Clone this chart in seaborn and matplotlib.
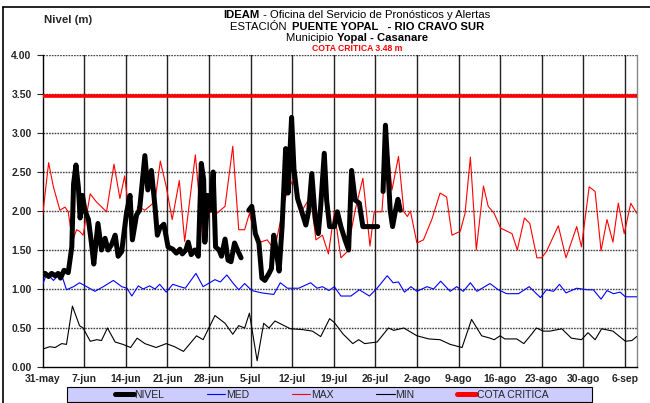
"""
Nivel del río Cravo Sur - estación Puente Yopal (IDEAM)
Recreación del gráfico de niveles con seaborn.
"""

import numpy as np
import pandas as pd
import matplotlib
matplotlib.use('Agg')
import matplotlib.pyplot as plt
from matplotlib.lines import Line2D
from matplotlib.patches import Rectangle
import seaborn as sns

sns.set_theme(style='white')
plt.rcParams['font.family'] = ['Liberation Sans', 'DejaVu Sans']

# ── datos (día desde el 31-may, nivel en m) ────────────────────────────────
max_dia = [0, 1, 1.8, 2.9, 3.75, 4.3, 5, 5.7, 6.2, 6.8, 8, 9, 10.75, 12, 13, 13.8,
           15.1, 16, 17.2, 18.9, 19.8, 20.8, 21.8, 23, 23.9, 25.7, 27, 28.1, 29,
           30.7, 32, 33, 34, 34.8, 35.8, 36.6, 37.8, 39, 40.9, 42.1, 43.7, 45.1,
           46, 47.1, 48.1, 49.1, 50.2, 51.3, 52.6, 53.9, 55.1, 55.8, 57.1, 58,
           58.8, 59.9, 60.8, 61.4, 61.9, 63, 64.1, 65.5, 66.9, 68, 68.9, 70.3,
           71.1, 72, 73, 74.2, 75, 76, 77.1, 79, 79.9, 81.1, 82, 83.2, 84, 84.8,
           86.8, 88.1, 89.9, 90.7, 92, 93, 94, 95, 96, 96.9, 97.9, 99, 100]
max_val = [1.95, 2.62, 2.31, 2.01, 2.05, 1.99, 1.61, 1.76, 1.74, 1.69, 2.22, 2.12,
           1.99, 2.60, 2.16, 2.45, 1.61, 2.06, 2.01, 2.12, 2.64, 2.31, 1.89, 2.39,
           1.61, 2.72, 1.59, 2.01, 1.95, 2.06, 2.83, 1.76, 1.76, 1.97, 1.67, 1.60,
           1.63, 1.50, 2.18, 2.40, 2.01, 2.19, 1.63, 1.69, 1.45, 1.99, 1.40, 1.48,
           2.01, 2.42, 1.55, 1.99, 1.99, 2.89, 2.27, 2.70, 1.99, 1.93, 2.00, 1.59,
           1.63, 1.89, 2.23, 2.18, 1.69, 1.74, 1.97, 2.69, 1.50, 2.32, 2.06, 1.97,
           1.78, 1.71, 1.50, 1.91, 1.84, 1.40, 1.40, 1.48, 1.81, 1.40, 1.80, 1.54,
           2.31, 2.25, 1.49, 1.89, 1.60, 2.10, 1.71, 2.10, 1.97]

med_dia = [0, 0.7, 1.8, 2.6, 3.2, 4, 5.2, 6.2, 7.4, 8.8, 10.2, 11.9, 13.3, 14.2,
           15, 16.1, 16.9, 18, 18.9, 19.7, 20.8, 21.9, 23.1, 24, 25.8, 27, 28.1,
           29, 29.9, 31, 32, 33, 34, 35.2, 36.9, 38.9, 40, 41.2, 43.1, 45.1, 46.2,
           47.1, 48.2, 49.1, 50.2, 51.9, 53.3, 55, 56.3, 58, 59, 59.9, 60.9, 62,
           63, 64.7, 65.8, 67, 68.6, 69.7, 70.8, 72, 73.1, 75.3, 76.7, 78.1, 80.1,
           81.9, 83.8, 84.8, 86, 87, 88.1, 89.9, 91.7, 92.7, 94, 95, 96.1, 97.2,
           98.1, 100]
med_val = [1.06, 1.20, 1.11, 1.17, 1.18, 0.99, 1.03, 1.08, 1.03, 0.97, 1.03, 1.11,
           1.03, 1.01, 0.91, 1.04, 1.00, 1.04, 1.00, 1.06, 0.96, 1.06, 1.03, 1.01,
           1.20, 1.03, 1.08, 1.12, 1.09, 1.18, 1.08, 0.99, 1.07, 0.98, 0.95, 0.93,
           1.08, 1.01, 1.01, 1.08, 1.01, 1.03, 0.98, 1.03, 0.91, 0.91, 0.99, 0.91,
           1.01, 1.17, 1.08, 1.09, 0.96, 1.03, 0.97, 1.03, 1.00, 1.10, 0.97, 1.03,
           0.97, 1.08, 0.97, 1.07, 0.99, 0.94, 0.94, 1.03, 0.89, 0.99, 0.97, 1.06,
           0.95, 1.01, 0.99, 0.99, 0.87, 0.98, 0.94, 0.96, 0.90, 0.90]

min_dia = [0, 1.2, 2.1, 3.2, 4, 5, 6.2, 6.8, 8, 9.1, 9.9, 10.9, 12.2, 13.5, 14.8,
           15.9, 17.2, 19.1, 20.8, 22.2, 23.7, 25.9, 27, 28.1, 29, 30.7, 32, 33,
           34, 34.8, 36.1, 37.2, 38.1, 39.1, 41.7, 43.7, 45.4, 46.8, 48.3, 49.1,
           50.6, 52.2, 53.2, 54.2, 56.3, 58.2, 59.1, 60.8, 63, 65, 66.9, 68.6,
           70.6, 72.2, 73.9, 75.3, 76, 77, 77.8, 79.8, 81, 82.3, 83.1, 84.3, 85.4,
           87.4, 89, 90.7, 91.8, 93, 94.1, 96, 98.1, 99.2, 100]
min_val = [0.23, 0.26, 0.25, 0.30, 0.29, 0.78, 0.53, 0.50, 0.33, 0.35, 0.34, 0.50,
           0.32, 0.29, 0.25, 0.37, 0.30, 0.25, 0.30, 0.26, 0.20, 0.40, 0.35, 0.52,
           0.66, 0.56, 0.42, 0.53, 0.50, 0.69, 0.08, 0.56, 0.50, 0.59, 0.49, 0.48,
           0.46, 0.39, 0.62, 0.57, 0.42, 0.30, 0.35, 0.30, 0.32, 0.50, 0.47, 0.50,
           0.40, 0.36, 0.35, 0.29, 0.25, 0.61, 0.40, 0.37, 0.35, 0.40, 0.36, 0.36,
           0.30, 0.42, 0.50, 0.46, 0.46, 0.49, 0.37, 0.35, 0.44, 0.35, 0.49, 0.46,
           0.33, 0.34, 0.39]

# NIVEL observado: NaN marca los huecos sin dato
nivel_dia = [0, 0.4, 1, 1.5, 2.1, 2.6, 3, 3.6, 4.3, 4.9, 5.2, 5.6, 6, 6.3, 6.7, 7.1,
             7.7, 8.2, 8.6, 9.3, 9.9, 10.5, 11, 11.6, 12.2, 12.7, 13.3, 14.1, 14.7,
             15.1, 15.8, 16.3, 17.2, 17.7, 18.3, 18.9, 19.3, 19.7, 20.4, 21.1, 21.9,
             22.5, 23.1, 23.5, 24.1, 24.5, 25, 25.6, 26.2, 26.7, 27.1, 27.3, 27.8,
             28.2, 28.7, 29.1, 29.7, 30.1, 30.7, 31.2, 31.7, 32.3, 32.9, 33.4, 34,
             34.7, 35.2, 35.8, 36.4, 36.9, 37.4, 38.1, 38.5, 38.9, 39.3, 39.8, 40.3,
             40.9, 41.3, 41.9, 42.3, 42.9, 43.7, 44.3, 44.8, 45.3, 45.9, 46.4, 46.8,
             47.4, 47.8, 48.3, 49.1, 49.6, 50.2, 50.9, 51.5, 52, 52.6, 53.3, 53.9,
             56.4, 56.8, 57.3, 57.7, 58.1, 58.5, 58.9, 59.4, 59.8, 60.2]
nivel_val = [1.17, 1.20, 1.16, 1.20, 1.17, 1.20, 1.14, 1.24, 1.21, 1.54, 2.35, 2.59,
             2.31, 1.91, 2.20, 2.01, 1.89, 1.59, 1.32, 1.84, 1.50, 1.65, 1.50, 1.57,
             1.69, 1.42, 1.48, 1.97, 2.20, 1.63, 1.95, 2.01, 2.71, 2.27, 2.52, 2.06,
             1.69, 1.78, 1.83, 1.54, 1.51, 1.46, 1.51, 1.45, 1.50, 1.60, 1.44, 1.50,
             1.42, 2.61, 2.40, 1.60, 2.20, 2.01, 2.50, 1.54, 1.50, 1.42, 1.64, 1.37,
             1.35, 1.59, 1.48, 1.40, np.nan,
             2.01, 2.06, 1.71, 1.59, 1.14, 1.11, 1.20, 1.26, 1.69, 1.50, 1.23, 1.80,
             2.80, 2.23, 3.20, 2.54, 2.16, 1.97, 1.82, 2.01, 2.48, 1.89, 1.71, 2.06,
             2.74, 2.14, 1.80, 1.80, 1.99, 1.80, 1.63, 1.50, 2.52, 2.14, 2.10, 1.80,
             1.80, np.nan,
             2.25, 3.10, 2.57, 2.01, 1.80, 2.01, 2.15, 2.01]

cota_critica = 3.48
tick_dias = list(range(0, 99, 7))
tick_labels = ['31-may', '7-jun', '14-jun', '21-jun', '28-jun', '5-jul', '12-jul',
               '19-jul', '26-jul', '2-ago', '9-ago', '16-ago', '23-ago', '30-ago',
               '6-sep']

# ── figura ─────────────────────────────────────────────────────────────────
W, H = 650, 403
fig = plt.figure(figsize=(W / 100, H / 100), dpi=100)
ax = fig.add_axes([42.7 / W, 36 / H, 594 / W, 312 / H])

df_max = pd.DataFrame({'dia': max_dia, 'valor': max_val})
df_med = pd.DataFrame({'dia': med_dia, 'valor': med_val})
df_min = pd.DataFrame({'dia': min_dia, 'valor': min_val})
df_niv = pd.DataFrame({'dia': nivel_dia, 'valor': nivel_val})
df_niv['tramo'] = df_niv['valor'].isna().cumsum()
df_niv = df_niv.dropna()

# rejilla: horizontales punteadas, verticales sólidas
for yv in np.arange(0.5, 4.01, 0.5):
    ax.axhline(yv, color='#444444', lw=1.0, ls=(0, (1.2, 0.8)), zorder=1)
for xv in tick_dias[1:]:
    ax.axvline(xv, color='#222222', lw=1.0, zorder=1)

sns.lineplot(data=df_med, x='dia', y='valor', ax=ax, color='#0000ff', lw=0.8,
             estimator=None, sort=False, zorder=3)
sns.lineplot(data=df_max, x='dia', y='valor', ax=ax, color='#ff0000', lw=0.8,
             estimator=None, sort=False, zorder=3)
sns.lineplot(data=df_min, x='dia', y='valor', ax=ax, color='black', lw=0.8,
             estimator=None, sort=False, zorder=3)
sns.lineplot(data=df_niv, x='dia', y='valor', units='tramo', ax=ax, color='black',
             lw=3.6, estimator=None, sort=False, zorder=4,
             solid_joinstyle='round', solid_capstyle='round')
ax.axhline(cota_critica, color='#ff0000', lw=2.6, zorder=5)

ax.set_xlim(0, 100)
ax.set_ylim(0, 4)
ax.set_xticks(tick_dias)
ax.set_xticklabels(tick_labels, fontsize=7.5, fontweight='bold')
ax.set_yticks(np.arange(0, 4.01, 0.5))
ax.set_yticklabels([f'{v:.2f}' for v in np.arange(0, 4.01, 0.5)],
                   fontsize=7.5, fontweight='bold')
ax.tick_params(axis='y', direction='out', length=4, width=0.8, pad=4, left=True)
ax.tick_params(axis='x', direction='out', length=0, pad=5)
ax.set_xlabel('')
ax.set_ylabel('')
ax.spines['top'].set_visible(False)
ax.spines['left'].set_color('black')
ax.spines['bottom'].set_color('black')
ax.spines['right'].set_color('#888888')
for s in ['left', 'bottom', 'right']:
    ax.spines[s].set_linewidth(1.0)

# leyenda inferior: caja lila y entradas centradas
fig.add_artist(Rectangle((67 / W, 1 / H), 525 / W, 15 / H, transform=fig.transFigure,
                         facecolor='#ccccff', edgecolor='black', lw=0.8))
handles = [Line2D([], [], color='black', lw=3.6),
           Line2D([], [], color='#0000ff', lw=0.8),
           Line2D([], [], color='#ff0000', lw=0.8),
           Line2D([], [], color='black', lw=0.8),
           Line2D([], [], color='#ff0000', lw=3.6)]
labels = ['NIVEL', 'MED', 'MAX', 'MIN', 'COTA CRITICA']
fig.legend(handles, labels, ncol=5, loc='center',
           bbox_to_anchor=(331.5 / W, 1 - 394.5 / H),
           fontsize=7.5, frameon=False, handlelength=1.8,
           handletextpad=0.05, borderpad=0.0, borderaxespad=0.0,
           columnspacing=4.1)

# encabezado con partes en negrita
r = fig.canvas.get_renderer()


def linea(y_px, partes, size, color='black', cx=357):
    textos = []
    for txt, peso in partes:
        t = fig.text(0, 1 - y_px / H, txt, fontsize=size, fontweight=peso,
                     color=color, va='center', ha='left')
        textos.append(t)
    anchos = [t.get_window_extent(renderer=r).width for t in textos]
    x = cx - sum(anchos) / 2
    for t, a in zip(textos, anchos):
        t.set_x(x / W)
        x += a


linea(15, [('IDEAM', 'bold'), (' - Oficina del Servicio de Pronósticos y Alertas', 'normal')], 8.1)
linea(26.5, [('ESTACIÓN  ', 'normal'), ('PUENTE YOPAL   - RIO CRAVO SUR', 'bold')], 8.1)
linea(38, [('Municipio ', 'normal'), ('Yopal - Casanare', 'bold')], 8.1)
linea(48.5, [('COTA CRÍTICA 3.48 m', 'bold')], 6.2, color='#ff0000')
fig.text(44 / W, 1 - 20 / H, 'Nivel (m)', fontsize=8.2, fontweight='bold', va='center')

# marco exterior
fig.add_artist(Line2D([3 / W, 3 / W], [0, 1 - 7 / H], color='black', lw=1.2,
                      transform=fig.transFigure))
fig.add_artist(Line2D([3 / W, 1], [1 - 7 / H, 1 - 7 / H], color='black', lw=1.2,
                      transform=fig.transFigure))

fig.savefig('out.png', dpi=100)
